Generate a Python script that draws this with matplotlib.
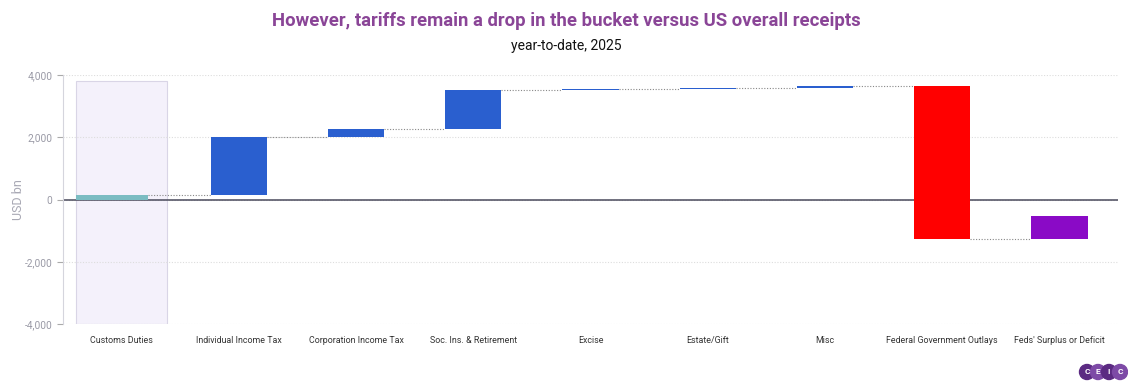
import matplotlib.pyplot as plt
import matplotlib.ticker as tick
from matplotlib.patches import Circle

plt.rcParams["font.family"] = ["Roboto", "DejaVu Sans"]

# data (USD bn, year-to-date 2025)
categories = ["Customs Duties", "Individual Income Tax", "Corporation Income Tax",
              "Soc. Ins. & Retirement", "Excise", "Estate/Gift", "Misc",
              "Federal Government Outlays", "Feds' Surplus or Deficit"]
steps = [150, 1850, 270, 1240, 45, 30, 50, -4904]
deficit_low = -1263
deficit_high = -536
colors = ["#7bbcc2", "#2a5fcf", "#2a5fcf", "#2a5fcf", "#2a5fcf", "#2a5fcf",
          "#2a5fcf", "#ff0000", "#8a0ac6"]
highlight_top = 3800

fig = plt.figure(figsize=(11.33, 3.87), dpi=100)
ax = fig.add_axes([0.0556, 0.1628, 0.9312, 0.6432])

# highlight box behind customs duties
ax.bar(0.0, highlight_top + 4000, bottom=-4000, width=0.78,
       color="#f4f1fb", edgecolor="#d9d5e6", linewidth=0.8, zorder=0)

# waterfall bars
level = 0
ends = []
for i, s in enumerate(steps):
    lo, hi = min(level, level + s), max(level, level + s)
    xc = i if i > 0 else -0.08
    w = 0.48 if i > 0 else 0.61
    ax.bar(xc, max(hi - lo, 25), bottom=lo, width=w, color=colors[i], zorder=3)
    ends.append((xc - w / 2, xc + w / 2, level + s))
    level += s

ax.bar(8, deficit_high - deficit_low, bottom=deficit_low, width=0.48,
       color=colors[8], zorder=3)
ends.append((8 - 0.24, 8 + 0.24, deficit_low))

# connectors
for (l0, r0, v0), (l1, r1, v1) in zip(ends[:-1], ends[1:]):
    ax.plot([r0, l1], [v0, v0], color="#888888", linestyle=(0, (1, 1.5)),
            linewidth=0.8, zorder=2)

ax.axhline(0, color="#4a4a5c", linewidth=1.1, zorder=2)

ax.set_xlim(-0.5, 8.5)
ax.set_ylim(-4000, 4000)
ax.set_yticks([-4000, -2000, 0, 2000, 4000])
ax.yaxis.set_major_formatter(tick.FuncFormatter(lambda v, p: f"{v:,.0f}"))
ax.grid(axis="y", color="#dddddd", linestyle=(0, (1, 1.5)), linewidth=0.8, zorder=1)
ax.set_xticks(range(len(categories)))
ax.set_xticklabels(categories, fontsize=6.4, color="#333333")
ax.tick_params(axis="x", length=0, pad=9)
ax.tick_params(axis="y", colors="#aaaaaa", labelcolor="#9a9aa6", labelsize=7.3,
               length=4, width=0.8)
for sp in ["top", "right", "bottom"]:
    ax.spines[sp].set_visible(False)
ax.spines["left"].set_color("#d5d5dd")
ax.set_ylabel("USD bn", color="#a8a8b4", fontsize=9)
ax.yaxis.set_label_coords(-0.036, 0.5)

fig.text(0.5, 0.945, "However, tariffs remain a drop in the bucket versus US overall receipts",
         ha="center", va="center", fontsize=13.3, fontweight="bold", color="#8a4597")
fig.text(0.5, 0.882, "year-to-date, 2025", ha="center", va="center",
         fontsize=10, color="#111111")

# CEIC logo
lax = fig.add_axes([1078 / 1133, 1 - 381 / 387, 50 / 1133, 18 / 387])
lax.set_xlim(0, 50)
lax.set_ylim(0, 18)
lax.axis("off")
for k, ch in enumerate("CEIC"):
    cx = 9 + k * 11
    lax.add_patch(Circle((cx, 9), 7.5, color="#5b2a82" if k % 2 == 0 else "#7d4aa6"))
    lax.text(cx, 9, ch, ha="center", va="center", fontsize=6, color="white",
             fontweight="bold")

fig.savefig("out.png", dpi=100)
